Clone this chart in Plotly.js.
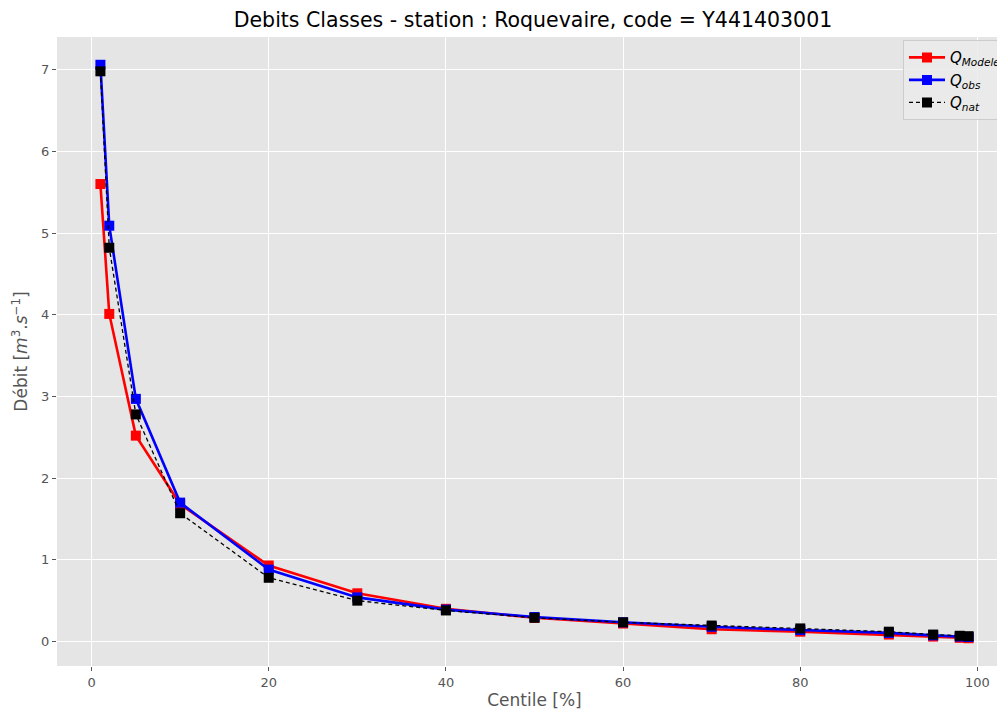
<!DOCTYPE html>
<html>
<head>
<meta charset="utf-8">
<script src="https://cdn.plot.ly/plotly-3.0.1.min.js"></script>
<style>html,body{margin:0;padding:0;overflow:hidden;background:#fff;}</style>
</head>
<body>
<div id="chart"></div>
<script>
const centiles = [1, 2, 5, 10, 20, 30, 40, 50, 60, 70, 80, 90, 95, 98, 99];
const qModele = [5.60, 4.01, 2.52, 1.68, 0.93, 0.59, 0.40, 0.29, 0.22, 0.15, 0.12, 0.085, 0.06, 0.045, 0.04];
const qObs    = [7.06, 5.09, 2.97, 1.70, 0.88, 0.54, 0.39, 0.30, 0.235, 0.18, 0.14, 0.105, 0.075, 0.06, 0.055];
const qNat    = [6.98, 4.82, 2.78, 1.57, 0.78, 0.50, 0.38, 0.29, 0.235, 0.195, 0.16, 0.12, 0.085, 0.07, 0.065];
const yTicks = [0, 1, 2, 3, 4, 5, 6, 7];
const xTicks = [0, 20, 40, 60, 80, 100];

const traces = [
  {x: centiles, y: qModele, name: '<i>Q</i><sub><i>Modele</i></sub>', mode: 'lines+markers',
   line: {color: '#ff0000', width: 2.6}, marker: {symbol: 'square', size: 10, color: '#ff0000'}},
  {x: centiles, y: qObs, name: '<i>Q</i><sub><i>obs</i></sub>', mode: 'lines+markers',
   line: {color: '#0000ff', width: 2.6}, marker: {symbol: 'square', size: 10, color: '#0000ff'}},
  {x: centiles, y: qNat, name: '<i>Q</i><sub><i>nat</i></sub>', mode: 'lines+markers',
   line: {color: '#000000', width: 1.3, dash: '4px,3px'}, marker: {symbol: 'square', size: 10, color: '#000000'}}
];

const layout = {
  width: 1030, height: 713,
  margin: {l: 57, r: 18, t: 37, b: 47},
  paper_bgcolor: '#ffffff', plot_bgcolor: '#e5e5e5',
  font: {family: 'DejaVu Sans', color: '#555555', size: 13},
  title: {text: 'Debits Classes - station : Roquevaire, code = Y441403001',
          font: {family: 'DejaVu Sans', size: 20.5, color: '#000000'},
          x: 533/1030, xanchor: 'center', y: 1 - 20/713, yanchor: 'middle'},
  xaxis: {range: [-3.9, 103.9], tickvals: xTicks, ticktext: xTicks.map(String),
          showgrid: true, gridcolor: '#ffffff', gridwidth: 1, zeroline: false,
          ticks: 'outside', ticklen: 4, tickcolor: '#555555', tickfont: {size: 13, color: '#555555'},
          title: {text: 'Centile [%]', font: {size: 17, color: '#555555'}, standoff: 5},
          showline: false},
  yaxis: {range: [-0.3, 7.4], tickvals: yTicks, ticktext: yTicks.map(String),
          showgrid: true, gridcolor: '#ffffff', gridwidth: 1, zeroline: false,
          ticks: 'outside', ticklen: 4, tickcolor: '#555555', tickfont: {size: 13, color: '#555555'},
          title: {text: 'Débit [<i>m</i><sup>3</sup>.<i>s</i><sup>−1</sup>]', font: {size: 17, color: '#555555'}, standoff: 9},
          showline: false},
  legend: {x: (903-57)/955, y: 0.995, xanchor: 'left', yanchor: 'top',
           bgcolor: 'rgba(235,235,235,0.85)', bordercolor: '#cccccc', borderwidth: 1,
           font: {family: 'DejaVu Sans', size: 15, color: '#000000'}, itemwidth: 36},
  showlegend: true
};

Plotly.newPlot('chart', traces, layout, {displayModeBar: false, staticPlot: true});
</script>
</body>
</html>
